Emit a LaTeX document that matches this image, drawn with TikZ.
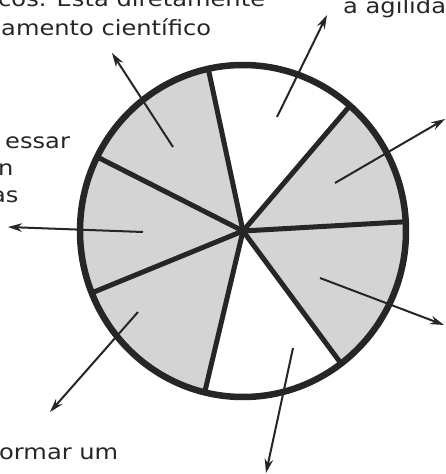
\documentclass[tikz,border=0pt]{standalone}
\usepackage{fontspec}
\setmainfont{DejaVu Sans}[FakeStretch=1.15]
\usetikzlibrary{arrows.meta}

\tikzset{
  rimline/.style={line width=6.5pt, draw=black!85},
  spoke/.style={line width=5pt, draw=black!85, line cap=round},
  pointer/.style={line width=2pt, draw=black!85, -{Stealth[length=14pt,width=8.5pt]}},
  cuttext/.style={anchor=base west, inner sep=0pt, text=black!85,
    font=\fontsize{21}{25}\selectfont},
}

\begin{document}
\begin{tikzpicture}[x=1pt,y=1pt]

\useasboundingbox (-243,-243) rectangle (203,231);
\clip (-243,-243) rectangle (203,231);

% ---------- RODA ----------

\coordinate (hub) at (0,0);
\foreach \a/\n in {3.2/1, 49/2, 102.3/3, 153.5/4, 201.9/5, 256.4/6, 307/7}
  \coordinate (r\n) at (\a:163pt and 166pt);

\fill[black!17] (hub) ellipse [x radius=163pt, y radius=166pt];
\fill[white] (hub) -- (r2) arc [start angle=49, end angle=102.3, x radius=163pt, y radius=166pt] -- cycle;
\fill[white] (hub) -- (r6) arc [start angle=256.4, end angle=307, x radius=163pt, y radius=166pt] -- cycle;

\foreach \n in {1,...,7}
  \draw[spoke] (hub) -- (r\n);

\draw[rimline] (hub) ellipse [x radius=163pt, y radius=166pt];

% ---------- SETAS ----------

\coordinate (a1) at (-70,84);    \coordinate (b1) at (-131,178);
\coordinate (a2) at (34,114);    \coordinate (b2) at (84,216);
\coordinate (a3) at (92,48);     \coordinate (b3) at (202,112);
\coordinate (a4) at (77,-47);    \coordinate (b4) at (201,-94);
\coordinate (a5) at (50,-117);   \coordinate (b5) at (23,-242);
\coordinate (a6) at (-105,-81);  \coordinate (b6) at (-193,-181);
\coordinate (a7) at (-100,-1);   \coordinate (b7) at (-235,4);

\foreach \n in {1,...,7}
  \draw[pointer] (a\n) -- (b\n);

% ---------- TEXTOS ----------

\node[cuttext] (t1) at (-245,224) {cos. Está diretamente};
\node[cuttext] (t2) at (-242,195) {amento científico};
\node[cuttext] (t3) at (100,217) {a agilida};
\node[cuttext] (t4) at (-238,82) {essar};
\node[cuttext] (t5) at (-245,56) {n};
\node[cuttext] (t6) at (-252,29) {as};
\node[cuttext] (t7) at (-244,-228) {ormar um};

\end{tikzpicture}
\end{document}
